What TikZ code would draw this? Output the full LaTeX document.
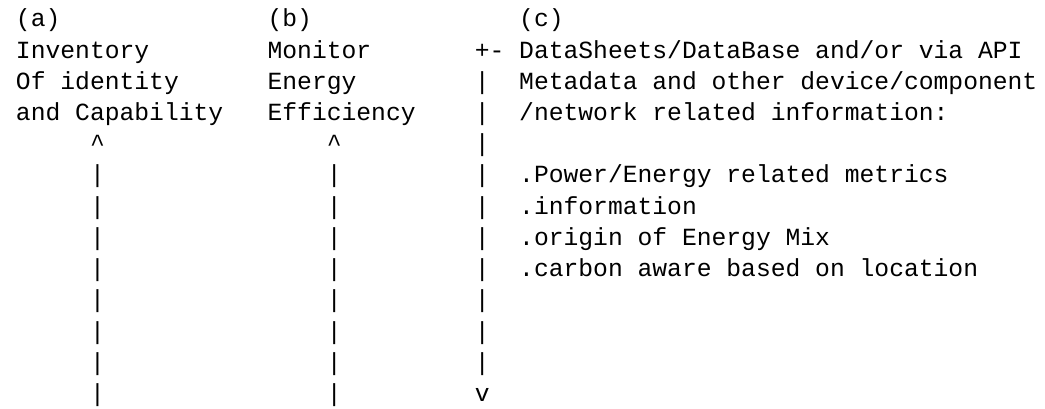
\documentclass[tikz,border=0pt]{standalone}
\usepackage{fontspec}
\newfontfamily\asciimono{Liberation Mono}
\tikzset{txt/.style={anchor=base west,inner sep=0pt,outer sep=0pt,text=black,font=\asciimono\fontsize{24.67pt}{30pt}\selectfont}}
\newcommand{\asc}[4]{\node[txt] (#1) at ({(16+#2*14.8)*1pt},{-(27+#3*31.2)*1pt}) {#4};}
\begin{document}
\begin{tikzpicture}
\useasboundingbox[fill=white] (0,0) rectangle (1045pt,-409pt);
% column (a)
\asc{la}{0}{0}{(a)}
\asc{a1}{0}{1}{Inventory}
\asc{a2}{0}{2}{Of identity}
\asc{a3}{0}{3}{and Capability}
\asc{a4}{5}{4}{\textasciicircum}
\foreach \r in {5,...,12}{\asc{a\r}{5}{\r}{|}}
% column (b)
\asc{lb}{17}{0}{(b)}
\asc{b1}{17}{1}{Monitor}
\asc{b2}{17}{2}{Energy}
\asc{b3}{17}{3}{Efficiency}
\asc{b4}{21}{4}{\textasciicircum}
\foreach \r in {5,...,12}{\asc{b\r}{21}{\r}{|}}
% column (c)
\asc{lc}{34}{0}{(c)}
\asc{c1}{31}{1}{+- DataSheets/DataBase and/or via API}
\foreach \r in {2,...,11}{\asc{v\r}{31}{\r}{|}}
\asc{c12}{31}{12}{v}
\asc{c2}{34}{2}{Metadata and other device/component}
\asc{c3}{34}{3}{/network related information:}
\asc{c5}{34}{5}{.Power/Energy related metrics}
\asc{c6}{34}{6}{.information}
\asc{c7}{34}{7}{.origin of Energy Mix}
\asc{c8}{34}{8}{.carbon aware based on location}
\end{tikzpicture}
\end{document}
